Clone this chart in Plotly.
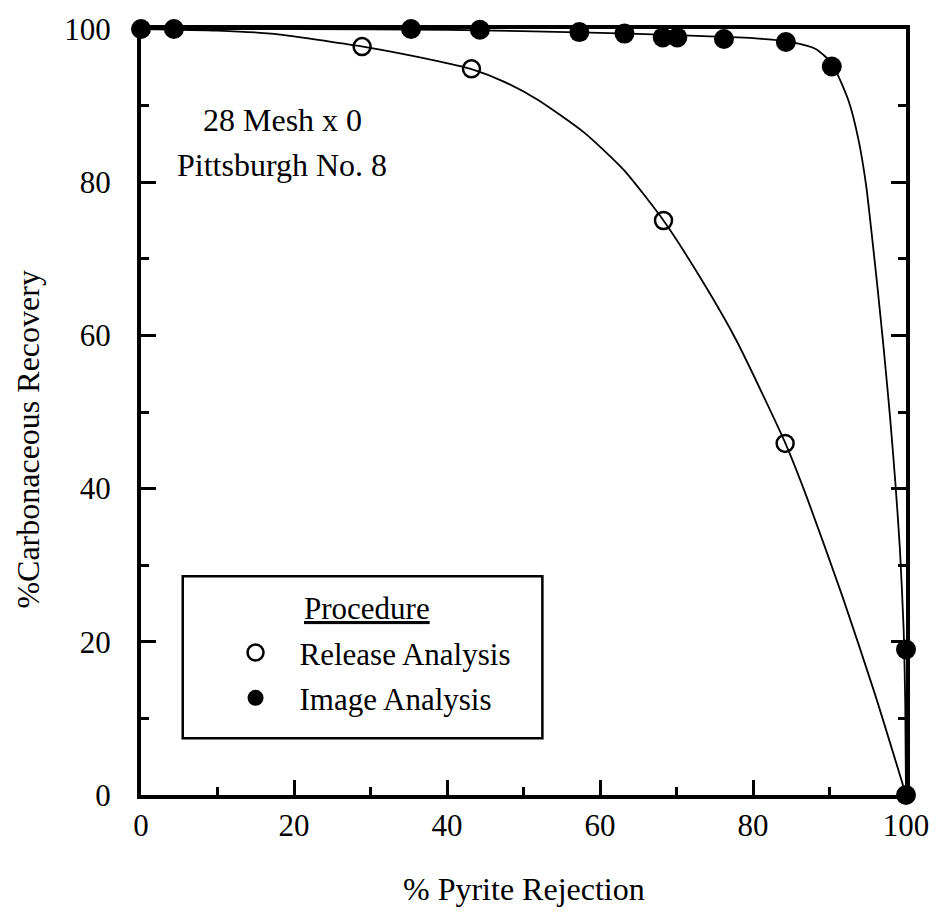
import plotly.graph_objects as go

# ---- data ----
release_x = [28.9, 43.2, 68.3, 84.2]
release_y = [97.7, 94.8, 75.0, 45.9]

image_x = [0, 4.3, 35.3, 44.3, 57.3, 63.2, 68.2, 70.1, 76.2, 84.3, 90.3, 100, 100]
image_y = [100, 100, 100, 99.9, 99.6, 99.4, 98.9, 98.9, 98.7, 98.3, 95.1, 19, 0]

# fitted curves as drawn in the reference
release_fit_x = [0, 10, 17, 29, 38.8, 43.4, 47.5, 51.8, 57.9, 63.1, 68.3, 73.5, 77.8,
                 84.2, 87.1, 91.7, 95.9, 100]
release_fit_y = [100, 99.8, 99.4, 97.7, 95.8, 94.7, 93.1, 90.8, 86.5, 81.6, 75, 66.9, 59.4,
                 46.0, 38.7, 25.9, 13.3, 0]

image_fit_x = [0, 20, 40, 60, 70, 80, 85, 88.2, 90.3, 92.5, 93.8, 94.8, 95.6, 96.3, 97.1,
               97.9, 98.6, 99.2, 99.7, 99.9, 100]
image_fit_y = [100, 100, 99.9, 99.5, 99.2, 98.8, 98.3, 97.4, 95.5, 90.6, 85.5, 79.5, 72.5,
               66.0, 58.1, 49.5, 40.9, 32.2, 21.4, 12, 0]

x_ticks = [0, 20, 40, 60, 80, 100]
y_ticks = [0, 20, 40, 60, 80, 100]

FONT = "Liberation Serif, Times New Roman, serif"

fig = go.Figure()

fig.add_trace(go.Scatter(x=release_fit_x, y=release_fit_y, mode="lines",
                         line=dict(color="black", width=1.8, shape="spline", smoothing=0.6),
                         showlegend=False, hoverinfo="skip", cliponaxis=False))
fig.add_trace(go.Scatter(x=image_fit_x, y=image_fit_y, mode="lines",
                         line=dict(color="black", width=1.8, shape="spline", smoothing=0.6),
                         showlegend=False, hoverinfo="skip", cliponaxis=False))

fig.add_trace(go.Scatter(x=release_x, y=release_y, mode="markers", name="Release Analysis",
                         legendgroup="a",
                         marker=dict(symbol="circle-open", size=17, color="black",
                                     line=dict(width=2.5, color="black")),
                         cliponaxis=False))
fig.add_trace(go.Scatter(x=image_x, y=image_y, mode="markers", name="Image Analysis",
                         legendgroup="b",
                         marker=dict(symbol="circle", size=20, color="black"),
                         cliponaxis=False))

axis_common = dict(
    showgrid=False, zeroline=False, showline=True, linecolor="black", linewidth=4,
    ticks="inside", ticklen=15, tickwidth=3, tickcolor="black",
    tickfont=dict(family=FONT, size=31, color="black"),
    layer="below traces",
)

fig.update_xaxes(range=[0, 100], tickvals=x_ticks, ticktext=[str(v) for v in x_ticks],
                 mirror=True, ticklabelstandoff=0,
                 minor=dict(dtick=10, tick0=0, ticks="inside", ticklen=8, tickwidth=3,
                            tickcolor="black"),
                 **axis_common)
fig.update_yaxes(range=[0, 100], tickvals=y_ticks, ticktext=[str(v) for v in y_ticks],
                 mirror="ticks", ticklabelstandoff=20,
                 minor=dict(dtick=10, tick0=0, ticks="inside", ticklen=8, tickwidth=3,
                            tickcolor="black"),
                 **axis_common)

L, R, T, B = 141, 30, 25, 118
W, H = 941, 913
pw, ph = W - L - R, H - T - B


def px_x(p):
    return (p - L) / pw


def px_y(p):
    return (H - B - p) / ph


fig.add_shape(type="rect", xref="paper", yref="paper",
              x0=px_x(183), x1=px_x(545), y0=px_y(738), y1=px_y(575),
              line=dict(color="black", width=2.5), fillcolor="rgba(0,0,0,0)")


def label(text, x, y, angle=0):
    fig.add_annotation(text=text, xref="paper", yref="paper",
                       x=px_x(x), y=px_y(y), xanchor="center", yanchor="middle",
                       showarrow=False, textangle=angle,
                       font=dict(family=FONT, size=32, color="black"))


label("28 Mesh x 0", 283, 116)
label("Pittsburgh No. 8", 283, 162)
label("% Pyrite Rejection", 527, 889)
label("%Carbonaceous Recovery", 27, 437, angle=-90)
fig.add_annotation(text="<u>Procedure</u>", xref="paper", yref="paper",
                   x=px_x(368), y=px_y(608), xanchor="center", yanchor="middle",
                   showarrow=False, font=dict(family=FONT, size=31, color="black"))

fig.update_layout(
    width=W, height=H,
    margin=dict(l=L, r=R, t=T, b=B),
    paper_bgcolor="white", plot_bgcolor="white",
    font=dict(family=FONT, size=31, color="black"),
    showlegend=True,
    legend=dict(
        x=px_x(212), y=px_y(625), xanchor="left", yanchor="top",
        bgcolor="rgba(0,0,0,0)", borderwidth=0,
        font=dict(family=FONT, size=31, color="black"),
        itemwidth=78, tracegroupgap=2,
    ),
)

fig.write_html("out.html")
